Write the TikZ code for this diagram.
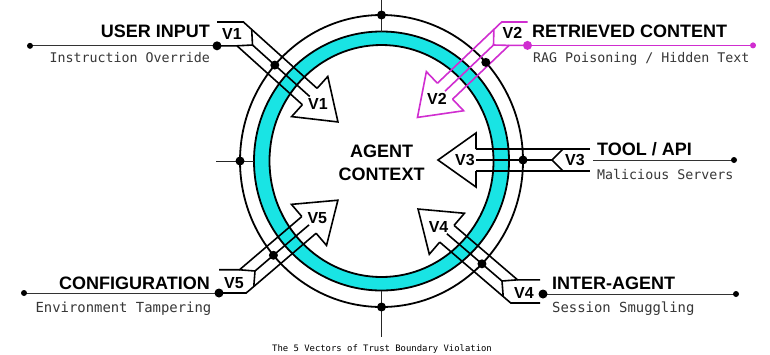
\documentclass[tikz,border=0pt]{standalone}
\usepackage{fontspec}
\setmainfont{Liberation Sans}
\newfontfamily\monof{DejaVu Sans Mono}
\usetikzlibrary{intersections,calc}
\definecolor{ringcyan}{RGB}{25,228,228}
\definecolor{vmag}{RGB}{208,45,208}
\definecolor{subgray}{RGB}{55,55,55}
\newcommand\aw{11}
\newcommand\VArrow[6]{%
\begin{scope}[shift={(#2,-#3)},rotate=#4]
 \coordinate (#1P) at (0,0);
 \coordinate (#1jp) at (-\aw,\aw);
 \coordinate (#1jm) at (-\aw,-\aw);
 \coordinate (#1jpb) at (-\aw-60,\aw);
 \coordinate (#1jmb) at (-\aw-60,-\aw);
 \coordinate (#1hp) at (#5-38,\aw);
 \coordinate (#1hm) at (#5-38,-\aw);
 \coordinate (#1hb) at (#5-38,0);
 \coordinate (#1lab) at (#5-27,0);
 \filldraw[vline,draw=#6,fill=white] (#5-38,\aw) -- (#5-38,27) -- (#5,0) -- (#5-38,-27) -- (#5-38,-\aw);
 \draw[vline,draw=#6] (#1jp) -- (#1P) -- (#1jm);
 \draw[vline,draw=#6,name path global=#1c] (#1P) -- (#1hb);
\end{scope}}
\tikzset{
 vline/.style={line width=1.6pt,line join=miter,line cap=butt},
 ringline/.style={line width=1.8pt},
 tickline/.style={line width=1pt,draw=black!85},
 uline/.style={line width=1pt,draw=black!80},
 bdot/.style={circle,fill=black,inner sep=0pt,minimum size=9pt},
 sdot/.style={circle,fill=black,inner sep=0pt,minimum size=6pt},
 hd/.style={font=\fontsize{18}{20}\selectfont\bfseries,inner sep=0pt},
 sub/.style={font=\monof\fontsize{13.3}{15}\selectfont,text=subgray,inner sep=0pt},
 subb/.style={font=\monof\fontsize{13.9}{15}\selectfont,text=subgray,inner sep=0pt},
 vlab/.style={font=\fontsize{16}{18}\selectfont\bfseries,inner sep=0pt},
 captext/.style={font=\monof\fontsize{8.9}{10}\selectfont,inner sep=0pt},
}
\begin{document}
\begin{tikzpicture}[x=1pt,y=1pt]
\fill[white] (0,0) rectangle (770,-354);
\useasboundingbox (0,0) rectangle (770,-354);
% rings
\fill[ringcyan,even odd rule] (381.5,-161) ellipse [x radius=127.5,y radius=129.5]
  (381.5,-161) ellipse [x radius=112,y radius=116];
\draw[ringline] (381.5,-161) ellipse [x radius=127.5,y radius=129.5];
\draw[ringline] (381.5,-161) ellipse [x radius=112,y radius=116];
\draw[ringline,name path global=outer] (381.5,-161) ellipse [x radius=141.5,y radius=146];
% ticks
\coordinate (tkL1) at (216,-161); \coordinate (tkL2) at (254,-161);
\coordinate (tkT1) at (381.5,0); \coordinate (tkT2) at (381.5,-31.5);
\coordinate (tkB1) at (381.5,-290.5); \coordinate (tkB2) at (381.5,-337);
\draw[tickline] (tkL1) -- (tkL2);
\draw[tickline] (tkT1) -- (tkT2);
\draw[tickline] (tkB1) -- (tkB2);
% arrows
\VArrow{V1}{252.5}{45}{-42}{115}{black}
\VArrow{V2}{493.5}{45}{223.6}{105}{vmag}
\VArrow{V3}{552}{160}{180}{114}{black}
\VArrow{V4}{502}{281}{139.4}{110.6}{black}
\VArrow{V5}{255}{271}{40.5}{109}{black}
% V1 tail
\coordinate (V1ta) at (217,-22); \coordinate (V1tb) at (300,-22); \coordinate (V1u) at (30,0);
\draw[vline] (V1hp) -- (V1jp) -- (intersection of V1jp--V1jpb and V1ta--V1tb) -- (V1ta);
\draw[vline] (V1hm) -- (V1jm) -- (V1jm -| V1ta);
\draw[uline] (V1jm -| V1u) -- (V1jm -| V1ta);
% V2 tail
\coordinate (V2ta) at (527.5,-22); \coordinate (V2tb) at (450,-22); \coordinate (V2u) at (753,0);
\draw[vline,vmag] (V2hm) -- (V2jm) -- (intersection of V2jm--V2jmb and V2ta--V2tb) -- (V2ta);
\draw[vline,vmag] (V2hp) -- (V2jp) -- (V2jp -| V2ta);
\draw[uline,vmag] (V2jp -| V2ta) -- (V2jp -| V2u);
% V3 tail
\coordinate (V3t) at (590,0); \coordinate (V3u1) at (593,-160); \coordinate (V3u2) at (734,-160);
\draw[vline] (V3hp) -- (V3jp) -- (V3jp -| V3t);
\draw[vline] (V3hm) -- (V3jm) -- (V3jm -| V3t);
\draw[uline] (V3u1) -- (V3u2);
% V4 tail
\coordinate (V4ta) at (540,-303); \coordinate (V4tb) at (460,-303);
\coordinate (V4u1) at (543,-294); \coordinate (V4u2) at (736,-294);
\draw[vline] (V4hp) -- (V4jp) -- (intersection of V4jp--V4jpb and V4ta--V4tb) -- (V4ta);
\draw[vline] (V4hm) -- (V4jm) -- (V4jm -| V4ta);
\draw[uline] (V4u1) -- (V4u2);
% V5 tail
\coordinate (V5ta) at (219,-293); \coordinate (V5tb) at (300,-293); \coordinate (V5u) at (24,-293);
\draw[vline] (V5hm) -- (V5jm) -- (intersection of V5jm--V5jmb and V5ta--V5tb) -- (V5ta);
\draw[vline] (V5hp) -- (V5jp) -- (V5jp -| V5ta);
\draw[uline] (V5u) -- (V5ta);
% dots on circle
\path[name intersections={of=outer and V1c,by=V1x}];
\path[name intersections={of=outer and V4c,by=V4x}];
\path[name intersections={of=outer and V5c,by=V5x}];
\coordinate (ctr) at (381.5,-161);
\node[bdot] (d1) at (V1x) {};
\node[bdot] (d4) at (V4x) {};
\node[bdot] (d5) at (V5x) {};
\node[bdot] (d2) at ($(ctr)+(42.5:141.5 and 146)$) {};
\node[bdot] (dT) at (381.5,-15) {};
\node[bdot] (dB) at (381.5,-307) {};
\node[bdot] (dL) at (240,-161) {};
\node[bdot] (dR) at (523,-160) {};
% tag / underline dots
\node[bdot] (e1) at (V1jm -| V1ta) {};
\node[sdot] (f1) at (V1jm -| V1u) {};
\node[bdot,fill=vmag] (e2) at (V2jp -| V2ta) {};
\node[sdot,fill=vmag] (f2) at (V2jp -| V2u) {};
\node[sdot] (f3) at (V3u2) {};
\node[bdot] (e4) at (V4u1) {};
\node[sdot] (f4) at (V4u2) {};
\node[bdot] (e5) at (V5ta) {};
\node[sdot] (f5) at (V5u) {};
% V labels
\node[vlab] (h1) at (V1lab) {V1};
\node[vlab] (h2) at (V2lab) {V2};
\node[vlab] (h3) at (V3lab) {V3};
\node[vlab] (h4) at (V4lab) {V4};
\node[vlab] (h5) at (V5lab) {V5};
\node[vlab] (g1) at (232,-34) {V1};
\node[vlab] (g2) at (512.5,-33) {V2};
\node[vlab] (g3) at (575,-160) {V3};
\node[vlab] (g4) at (524,-292.5) {V4};
\node[vlab] (g5) at (234,-283.5) {V5};
% centre
\node[hd,anchor=base] (c1) at (381.5,-157) {AGENT};
\node[hd,anchor=base] (c2) at (381.5,-180) {CONTEXT};
% headings
\node[hd,anchor=base east] (t1) at (210,-37) {USER INPUT};
\node[sub,anchor=base east] (s1) at (210,-62) {Instruction Override};
\node[hd,anchor=base west] (t2) at (532,-37) {RETRIEVED CONTENT};
\node[sub,anchor=base west] (s2) at (533,-62) {RAG Poisoning / Hidden Text};
\node[hd,anchor=base west] (t3) at (597,-155) {TOOL / API};
\node[sub,anchor=base west] (s3) at (597,-179) {Malicious Servers};
\node[hd,anchor=base west] (t4) at (552,-289) {INTER-AGENT};
\node[subb,anchor=base west] (s4) at (552,-312) {Session Smuggling};
\node[hd,anchor=base east] (t5) at (210,-289) {CONFIGURATION};
\node[subb,anchor=base east] (s5) at (211.5,-312) {Environment Tampering};
\node[captext,anchor=base] (cp) at (382,-351) {The 5 Vectors of Trust Boundary Violation};
\end{tikzpicture}
\end{document}
